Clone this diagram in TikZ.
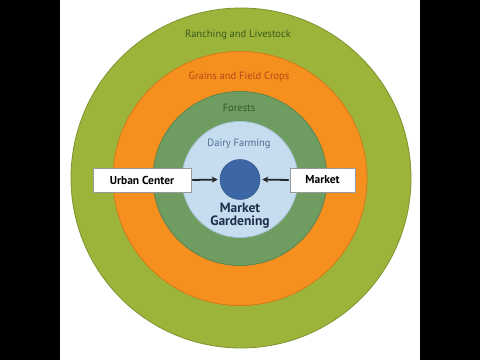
\documentclass[tikz,border=0pt]{standalone}
\usepackage{fontspec}
\setmainfont{PT Sans}
\usetikzlibrary{arrows.meta}
\definecolor{olive}{HTML}{9DB43A}
\definecolor{oliveedge}{HTML}{7E9330}
\definecolor{orng}{HTML}{F5901F}
\definecolor{orngedge}{HTML}{D27A1A}
\definecolor{forest}{HTML}{6F9C60}
\definecolor{forestedge}{HTML}{5A8450}
\definecolor{lblue}{HTML}{C6DCEF}
\definecolor{lblueedge}{HTML}{A8C2D8}
\definecolor{dblue}{HTML}{3C66A6}
\definecolor{ranchtxt}{HTML}{3D5A1C}
\definecolor{graintxt}{HTML}{B04A16}
\definecolor{foresttxt}{HTML}{2F5A2C}
\definecolor{dairytxt}{HTML}{4F6E90}
\definecolor{gardtxt}{HTML}{1E2D4A}
\begin{document}
\begin{tikzpicture}[x=1pt,y=-1pt,
  ring/.style={circle,inner sep=0pt,line width=0.8pt},
  lbl/.style={font=\fontsize{10.5}{12}\selectfont,inner sep=0pt},
  box/.style={draw=black!40,fill=white,line width=0.5pt,inner sep=0pt,
    font=\fontsize{11.5}{13}\selectfont\bfseries},
  arr/.style={-{Stealth[length=6pt,width=6pt]},line width=1.8pt,black!85}]
\fill[black] (0,0) rectangle (480,360);
\fill[white] (60,0) rectangle (420,360);
\useasboundingbox (0,0) rectangle (480,360);
\node[ring,fill=olive,draw=oliveedge,minimum size=340pt] (r1) at (241,178) {};
\node[ring,fill=orng,draw=orngedge,minimum size=254pt] (r2) at (240,178.5) {};
\node[ring,fill=forest,draw=forestedge,minimum size=174pt] (r3) at (240,178.5) {};
\node[ring,fill=lblue,draw=lblueedge,minimum size=116pt] (r4) at (240,179.5) {};
\node[ring,fill=dblue,draw=dblue!80!black,line width=0.5pt,minimum size=40pt] (dot) at (240,179.5) {};
\node[lbl,text=ranchtxt] (t1) at (238,35) {Ranching and Livestock};
\node[lbl,text=graintxt] (t2) at (239,77) {Grains and Field Crops};
\node[lbl,text=foresttxt] (t3) at (239,108) {Forests};
\node[lbl,text=dairytxt] (t4) at (239,144) {Dairy Farming};
\node[font=\fontsize{13.5}{13}\selectfont\bfseries,text=gardtxt,align=center,inner sep=0pt] (t5) at (240,215.5) {Market\\Gardening};
\node[box,minimum width=98pt,minimum height=24pt] (uc) at (142,180) {Urban Center};
\node[box,minimum width=65pt,minimum height=24pt] (mk) at (322.5,180) {Market};
\draw[arr,shorten <=1pt,shorten >=2pt] (uc.east) -- (dot.west);
\draw[arr,shorten <=1pt,shorten >=2pt] (mk.west) -- (dot.east);
\end{tikzpicture}
\end{document}
